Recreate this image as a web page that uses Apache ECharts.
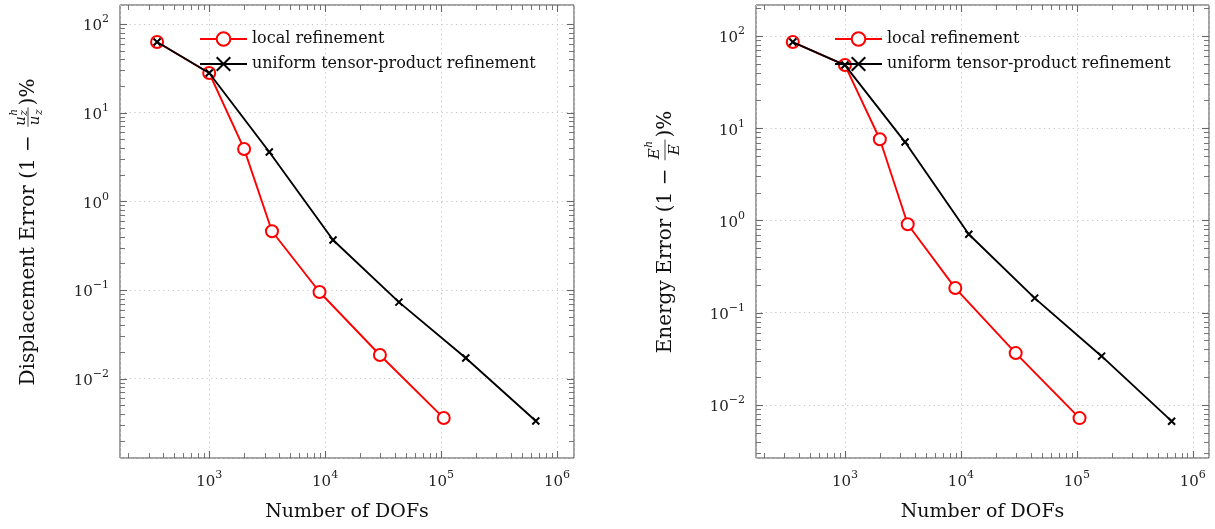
<!DOCTYPE html>
<html><head><meta charset="utf-8">
<script src="https://cdn.jsdelivr.net/npm/echarts@6/dist/echarts.min.js"></script>
<style>html,body{margin:0;padding:0;background:#fff}#c{width:1215px;height:529px}</style>
</head><body><div id="c"></div>
<script>
// ---- data ----
const dofsLocal     = [355, 1000, 2000, 3480, 8950, 29700, 105500];
const dofsUniform   = [355, 1000, 3300, 11700, 43300, 163500, 657000];
const dispLocal     = [62.7, 28, 3.9, 0.46, 0.095, 0.0185, 0.0036];
const dispUniform   = [62.7, 28, 3.6, 0.367, 0.073, 0.0171, 0.00334];
const energyLocal   = [86, 48.4, 7.6, 0.91, 0.185, 0.0365, 0.0072];
const energyUniform = [86, 48.4, 7.08, 0.71, 0.144, 0.0338, 0.00667];
const seriesNames   = ['local refinement', 'uniform tensor-product refinement'];
const xTitle        = 'Number of DOFs';
const yTitleLeft    = ['Displacement Error (1 − ', ')%', 'u', 'h', 'z', 'u', 'z'];
const yTitleRight   = ['Energy Error (1 − ', ')%', 'E', 'h', '', 'E', ''];

// ---- style ----
const SERIF = '"DejaVu Serif", serif';
const RED = '#ff0000';
const FRAME = '#444';

const chart = echarts.init(document.getElementById('c'), null, {renderer: 'canvas'});

function expLabel(v) {
  const l = Math.log10(v);
  const e = Math.round(l);
  if (Math.abs(l - e) > 1e-6) return '';
  return '{b|10}{s|' + (e < 0 ? '−' + (-e) : e) + '}';
}
const labelRich = {
  b: {fontFamily: SERIF, fontSize: 15, color: '#222', verticalAlign: 'bottom', lineHeight: 20},
  s: {fontFamily: SERIF, fontSize: 11, color: '#222', verticalAlign: 'top', lineHeight: 20}
};

function xAxisCfg(gi, min, max) {
  return {
    type: 'log', logBase: 10, gridIndex: gi, min, max,
    name: xTitle, nameLocation: 'middle', nameGap: 45,
    nameTextStyle: {fontFamily: SERIF, fontSize: 19, color: '#111'},
    axisLine: {show: false}, axisTick: {show: false},
    axisLabel: {formatter: expLabel, rich: labelRich, margin: 12, showMinLabel: false, showMaxLabel: false},
    splitLine: {show: true, lineStyle: {color: '#c4c4c4', type: [1.2, 3.6], width: 1}},
    minorTick: {show: false}
  };
}
function yAxisCfg(gi, min, max) {
  return {
    type: 'log', logBase: 10, gridIndex: gi, min, max,
    axisLine: {show: false}, axisTick: {show: false},
    axisLabel: {formatter: expLabel, rich: labelRich, margin: 11, showMinLabel: false, showMaxLabel: false},
    splitLine: {show: true, lineStyle: {color: '#c4c4c4', type: [1.2, 3.6], width: 1}}
  };
}

function tickData(xe0, xe1, ye0, ye1, xRef, yRef) {
  const d = [];
  for (let e = xe0; e <= xe1; e++) for (let m = 1; m <= 9; m++) d.push([m * Math.pow(10, e), yRef, m === 1 ? 1 : 0, 0]);
  for (let e = ye0; e <= ye1; e++) for (let m = 1; m <= 9; m++) d.push([xRef, m * Math.pow(10, e), m === 1 ? 1 : 0, 1]);
  return d;
}
function renderTick(params, api) {
  const cs = params.coordSys;
  const isY = api.value(3) === 1;
  const major = api.value(2) === 1;
  const len = major ? 7 : 5;
  const p = api.coord([api.value(0), api.value(1)]);
  const style = {stroke: '#666', lineWidth: major ? 1.1 : 0.9};
  if (!isY) {
    const x = Math.round(p[0]) + 0.5;
    if (x <= cs.x + 1 || x >= cs.x + cs.width - 1) return;
    const b = cs.y + cs.height, t = cs.y;
    return {type: 'group', children: [
      {type: 'line', shape: {x1: x, y1: b, x2: x, y2: b - len}, style},
      {type: 'line', shape: {x1: x, y1: t, x2: x, y2: t + len}, style}
    ]};
  } else {
    const y = Math.round(p[1]) + 0.5;
    if (y <= cs.y + 1 || y >= cs.y + cs.height - 1) return;
    const l = cs.x, r = cs.x + cs.width;
    return {type: 'group', children: [
      {type: 'line', shape: {x1: l, y1: y, x2: l + len, y2: y}, style},
      {type: 'line', shape: {x1: r, y1: y, x2: r - len, y2: y}, style}
    ]};
  }
}
function tickSeries(gi, data) {
  return {type: 'custom', xAxisIndex: gi, yAxisIndex: gi, data, renderItem: renderTick,
    silent: true, z: 1, encode: {x: 0, y: 1}, animation: false};
}
function lineSeries(name, xs, ys, gi, isLocal) {
  return {
    type: 'line', name, xAxisIndex: gi, yAxisIndex: gi,
    data: xs.map((x, i) => [x, ys[i]]),
    symbol: isLocal ? 'emptyCircle' : 'path://M0,0L10,10M10,0L0,10',
    symbolSize: isLocal ? 12 : 7,
    showAllSymbol: true,
    lineStyle: {color: isLocal ? RED : '#000', width: 1.9},
    itemStyle: isLocal ? {color: RED, borderColor: RED, borderWidth: 2}
                       : {color: 'rgba(0,0,0,0)', borderColor: '#000', borderWidth: 2},
    z: isLocal ? 3 : 4, animation: false
  };
}

// y-axis title with a stacked fraction, built from real text elements
const measCtx = document.createElement('canvas').getContext('2d');
function tw(text, font) { measCtx.font = font; return measCtx.measureText(text).width; }
function yTitle(cx, cy, parts, isE) {
  const fMain = '20px ' + SERIF;
  const fFr = 'italic 15px ' + SERIF;
  const fSm = 'italic 10.5px ' + SERIF;
  const [a, b, num, numSup, numSub, den, denSub] = parts;
  const wA = tw(a, fMain), wB = tw(b, fMain);
  const wNum = tw(num, fFr) + Math.max(tw(numSup, fSm), tw(numSub, fSm)) + 1;
  const wDen = tw(den, fFr) + (denSub ? tw(denSub, fSm) + 1 : 0);
  const wF = Math.max(wNum, wDen) + 6;
  const W = wA + wF + wB;
  let x0 = -W / 2;
  const ch = [];
  const T = (text, x, y, font, align) => ({type: 'text', style: {text, x, y, font, fill: '#111', align: align || 'left', verticalAlign: 'middle'}});
  ch.push(T(a, x0, 0, fMain));
  const fx = x0 + wA;
  ch.push({type: 'line', shape: {x1: fx + 2, y1: -1, x2: fx + wF - 2, y2: -1}, style: {stroke: '#111', lineWidth: 0.8}});
  const nx = fx + (wF - wNum) / 2;
  ch.push(T(num, nx, isE ? -11 : -8, fFr));
  const nw = tw(num, fFr);
  ch.push(T(numSup, nx + nw + 0.5, isE ? -17 : -15, fSm));
  if (numSub) ch.push(T(numSub, nx + nw + 0.5, -5, fSm));
  const dx = fx + (wF - wDen) / 2;
  ch.push(T(den, dx, isE ? 9 : 6, fFr));
  if (denSub) ch.push(T(denSub, dx + tw(den, fFr) + 0.5, 10, fSm));
  ch.push(T(b, fx + wF, 0, fMain));
  return {type: 'group', x: cx, y: cy, rotation: Math.PI / 2, children: ch, silent: true};
}

const legendCommon = {
  orient: 'vertical', itemWidth: 47, itemHeight: 17, itemGap: 9, padding: 0,
  selectedMode: false, data: seriesNames,
  textStyle: {fontFamily: SERIF, fontSize: 16, color: '#111'}
};

const option = {
  backgroundColor: '#fff',
  animation: false,
  grid: [
    {left: 120, top: 5, width: 454, height: 453, show: true, borderColor: FRAME, borderWidth: 1, backgroundColor: 'transparent'},
    {left: 756, top: 5, width: 453, height: 453, show: true, borderColor: FRAME, borderWidth: 1, backgroundColor: 'transparent'}
  ],
  xAxis: [xAxisCfg(0, 170, 1.403e6), xAxisCfg(1, 171, 1.38e6)],
  yAxis: [yAxisCfg(0, 0.001276, 163.7), yAxisCfg(1, 0.00266, 216.8)],
  legend: [
    Object.assign({left: 199, top: 31}, legendCommon),
    Object.assign({left: 834, top: 31}, legendCommon)
  ],
  series: [
    tickSeries(0, tickData(2, 6, -3, 2, 1000, 1)),
    tickSeries(1, tickData(2, 6, -3, 2, 1000, 1)),
    lineSeries(seriesNames[0], dofsLocal, dispLocal, 0, true),
    lineSeries(seriesNames[1], dofsUniform, dispUniform, 0, false),
    lineSeries(seriesNames[0], dofsLocal, energyLocal, 1, true),
    lineSeries(seriesNames[1], dofsUniform, energyUniform, 1, false)
  ],
  graphic: [
    yTitle(29, 232, yTitleLeft, false),
    yTitle(666, 232, yTitleRight, true)
  ]
};
chart.setOption(option);
</script></body></html>
